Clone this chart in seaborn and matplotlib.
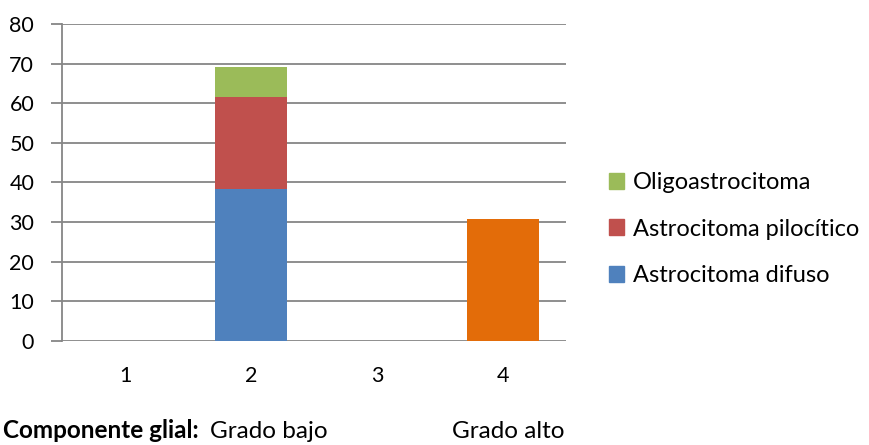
import matplotlib
matplotlib.use("Agg")
import matplotlib.pyplot as plt
import seaborn as sns
import pandas as pd
import numpy as np
from matplotlib.patches import Patch

categories = ["1", "2", "3", "4"]
astro_difuso = [0, 38.46, 0, 0]
astro_pilocitico = [0, 23.08, 0, 0]
oligoastro = [0, 7.69, 0, 0]
grado_alto = [0, 0, 0, 30.77]

series_names = ["Astrocitoma difuso", "Astrocitoma pilocítico", "Oligoastrocitoma"]
colors = {"Astrocitoma difuso": "#4F81BD", "Astrocitoma pilocítico": "#C0504D",
          "Oligoastrocitoma": "#9BBB59", "alto": "#E36C09"}

sns.set_theme(style="white")
plt.rcParams['font.family'] = ['Lato', 'DejaVu Sans']

FS_TICK = 15.5
FS_LEG = 17
FS_BOT = 17.5

fig = plt.figure(figsize=(8.69, 4.45), dpi=100)
ax = fig.add_axes([62/869, 1-341/445, (566-62)/869, (341-24)/445])

cum1 = np.array(astro_difuso)
cum2 = cum1 + np.array(astro_pilocitico)
cum3 = cum2 + np.array(oligoastro)

df = pd.DataFrame({"cat": categories, "c1": cum1, "c2": cum2, "c3": cum3, "alto": grado_alto})

w = 72/126
for col, c in [("c3", colors["Oligoastrocitoma"]), ("c2", colors["Astrocitoma pilocítico"]),
               ("c1", colors["Astrocitoma difuso"]), ("alto", colors["alto"])]:
    sns.barplot(data=df, x="cat", y=col, order=categories, color=c, width=w,
                saturation=1, ax=ax, edgecolor="none", linewidth=0)

ax.set_ylim(0, 80)
ax.set_xlim(-0.5, 3.5)
ax.set_yticks(range(0, 81, 10))
ax.yaxis.grid(True, color="#868686", linewidth=1.3)
ax.set_axisbelow(True)
for s in ["top", "right", "bottom"]:
    ax.spines[s].set_visible(False)
ax.spines["left"].set_color("#868686")
ax.spines["left"].set_linewidth(1.3)
ax.tick_params(axis="y", length=8, width=1.3, color="#868686", labelsize=FS_TICK, pad=12,
               left=True, labelcolor="black")
ax.tick_params(axis="x", length=0, labelsize=FS_TICK, pad=18, labelcolor="black")
ax.set_xlabel("")
ax.set_ylabel("")

handles = [Patch(color=colors[n]) for n in reversed(series_names)]
leg = fig.legend(handles, list(reversed(series_names)), loc="center left",
                 bbox_to_anchor=(609/869, 1-229/445), frameon=False, fontsize=FS_LEG,
                 borderpad=0, borderaxespad=0,
                 handlelength=0.64, handleheight=0.64, handletextpad=0.36, labelspacing=1.08)
for t in leg.get_texts():
    t.set_color("black")

fig.text(3/869, 1-438/445, "Componente glial:", fontsize=FS_BOT, fontweight="bold",
         va="baseline", color="black")
fig.text(210/869, 1-438/445, "Grado bajo", fontsize=FS_BOT, va="baseline", color="black")
fig.text(452/869, 1-438/445, "Grado alto", fontsize=FS_BOT, va="baseline", color="black")

fig.savefig("out.png", dpi=100)
